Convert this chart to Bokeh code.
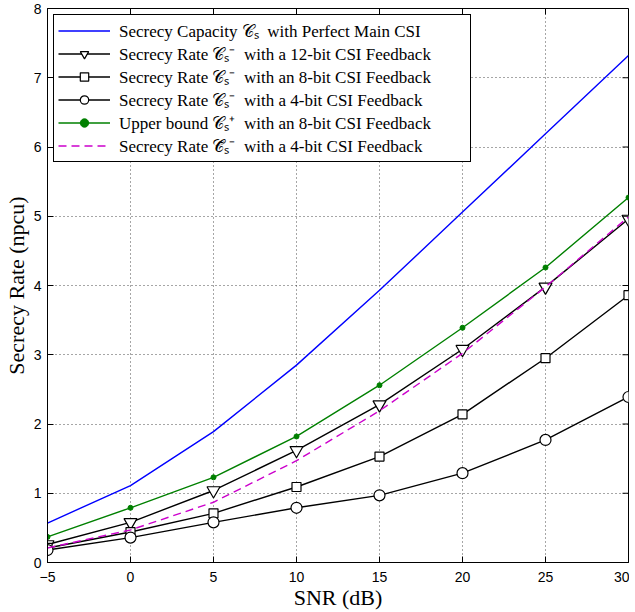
from bokeh.plotting import figure
from bokeh.models import Legend, LegendItem, FixedTicker, Range1d, ColumnDataSource, Title
from bokeh.embed import file_html
from bokeh.resources import INLINE

# ---- data ----
snr = [-5, 0, 5, 10, 15, 20, 25, 30]
cap_perfect = [0.57, 1.11, 1.89, 2.85, 3.93, 5.06, 6.19, 7.32]
rate_12bit = [0.26, 0.58, 1.04, 1.62, 2.28, 3.08, 3.98, 4.96]
rate_8bit = [0.21, 0.44, 0.71, 1.09, 1.53, 2.14, 2.95, 3.86]
rate_4bit = [0.18, 0.36, 0.58, 0.79, 0.97, 1.29, 1.77, 2.39]
upper_8bit = [0.37, 0.79, 1.23, 1.82, 2.56, 3.39, 4.26, 5.27]
rate_tilde_4bit = [0.21, 0.47, 0.87, 1.47, 2.19, 3.02, 3.98, 4.99]

x_ticks = [-5, 0, 5, 10, 15, 20, 25, 30]
y_ticks = [0, 1, 2, 3, 4, 5, 6, 7, 8]
x_label = "SNR (dB)"
y_label = "Secrecy Rate (npcu)"

SP = "\u2002"
labels = [
    "Secrecy Capacity \U0001D49E\u209B" + SP + "with Perfect Main CSI",
    "Secrecy Rate \U0001D49E\u209B\u207B" + SP + "with a 12-bit CSI Feedback",
    "Secrecy Rate \U0001D49E\u209B\u207B" + SP + "with an 8-bit CSI Feedback",
    "Secrecy Rate \U0001D49E\u209B\u207B" + SP + "with a 4-bit CSI Feedback",
    "Upper bound \U0001D49E\u209B\u207A" + SP + "with an 8-bit CSI Feedback",
    "Secrecy Rate \U0001D49E\u0303\u209B\u207B" + SP + "with a 4-bit CSI Feedback",
]

x0, x1 = -5, 30
y0, y1 = 0, 8

W, H = 629, 612
BL, BR, BT, BB = 47, 1, 8, 50
FW, FH = W - BL - BR, H - BT - BB
TICK = 6  # px

src = ColumnDataSource(dict(snr=snr, cap=cap_perfect, r12=rate_12bit, r8=rate_8bit,
                            r4=rate_4bit, up=upper_8bit, rt=rate_tilde_4bit))

p = figure(width=W, height=H, x_range=Range1d(x0, x1), y_range=Range1d(y0, y1),
           output_backend="svg", toolbar_location=None,
           min_border_left=BL, min_border_right=BR, min_border_top=BT, min_border_bottom=BB,
           background_fill_color="white", border_fill_color="white")

LW = 1.4
r_cap = p.line("snr", "cap", source=src, line_color="#0000ff", line_width=LW)
l12 = p.line("snr", "r12", source=src, line_color="black", line_width=LW)
m12 = p.scatter("snr", "r12", source=src, marker="inverted_triangle", size=13,
                fill_color="white", line_color="black", line_width=1.2)
l8 = p.line("snr", "r8", source=src, line_color="black", line_width=LW)
m8 = p.scatter("snr", "r8", source=src, marker="square", size=9,
               fill_color="white", line_color="black", line_width=1.2)
l4 = p.line("snr", "r4", source=src, line_color="black", line_width=LW)
m4 = p.scatter("snr", "r4", source=src, marker="circle", size=11,
               fill_color="white", line_color="black", line_width=1.2)
lup = p.line("snr", "up", source=src, line_color="#008000", line_width=LW)
mup = p.scatter("snr", "up", source=src, marker="circle", size=5,
                fill_color="#008000", line_color="#008000")
lt = p.line("snr", "rt", source=src, line_color="#cc00cc", line_width=LW, line_dash="8 5")

# inward ticks on the top and right edges (MATLAB box style)
ty = TICK * (y1 - y0) / FH
tx = TICK * (x1 - x0) / FW
p.segment(x0=x_ticks, y0=[y1] * len(x_ticks), x1=x_ticks, y1=[y1 - ty] * len(x_ticks),
          line_color="black", line_width=1)
p.segment(x0=[x1] * len(y_ticks), y0=y_ticks, x1=[x1 - tx] * len(y_ticks), y1=y_ticks,
          line_color="black", line_width=1)

# axes
for ax in (p.xaxis[0], p.yaxis[0]):
    ax.major_tick_in = TICK
    ax.major_tick_out = 0
    ax.minor_tick_in = 0
    ax.minor_tick_out = 0
    ax.axis_line_color = "black"
    ax.major_tick_line_color = "black"
    ax.major_label_text_font = "Liberation Sans"
    ax.major_label_text_font_size = "14px"
    ax.major_label_text_color = "black"
    ax.axis_label_text_font = "Liberation Serif"
    ax.axis_label_text_font_size = "22px"
    ax.axis_label_text_font_style = "normal"
    ax.axis_label_text_color = "black"

p.xaxis.ticker = FixedTicker(ticks=x_ticks)
p.yaxis.ticker = FixedTicker(ticks=y_ticks)
p.xaxis.major_label_overrides = {-5: "\u22125"}
p.yaxis.axis_label = y_label
p.xaxis.major_label_standoff = 9
p.yaxis.major_label_standoff = 6
p.yaxis.axis_label_standoff = 2

p.add_layout(Title(text=x_label, align="center", text_font="Liberation Serif",
                   text_font_size="22px", text_font_style="normal", text_color="black",
                   standoff=-3, offset=0), "below")

p.xgrid.ticker = FixedTicker(ticks=x_ticks)
p.ygrid.ticker = FixedTicker(ticks=y_ticks)
for g in (p.xgrid[0], p.ygrid[0]):
    g.grid_line_color = "black"
    g.grid_line_alpha = 0.7
    g.grid_line_dash = "1 3"
    g.grid_line_width = 1

p.outline_line_color = "black"
p.outline_line_alpha = 1
p.outline_line_width = 1

legend = Legend(items=[
    LegendItem(label=labels[0], renderers=[r_cap]),
    LegendItem(label=labels[1], renderers=[l12, m12]),
    LegendItem(label=labels[2], renderers=[l8, m8]),
    LegendItem(label=labels[3], renderers=[l4, m4]),
    LegendItem(label=labels[4], renderers=[lup, mup]),
    LegendItem(label=labels[5], renderers=[lt]),
], location="top_left", margin=6, padding=4, spacing=0,
    label_height=21, glyph_height=21, glyph_width=52, label_standoff=9, label_width=347,
    label_text_font="Liberation Serif", label_text_font_size="17px", label_text_color="black",
    border_line_color="black", border_line_width=1, border_line_alpha=1,
    background_fill_color="white", background_fill_alpha=1)
p.add_layout(legend)

open("out.html", "w").write(file_html(p, INLINE))
